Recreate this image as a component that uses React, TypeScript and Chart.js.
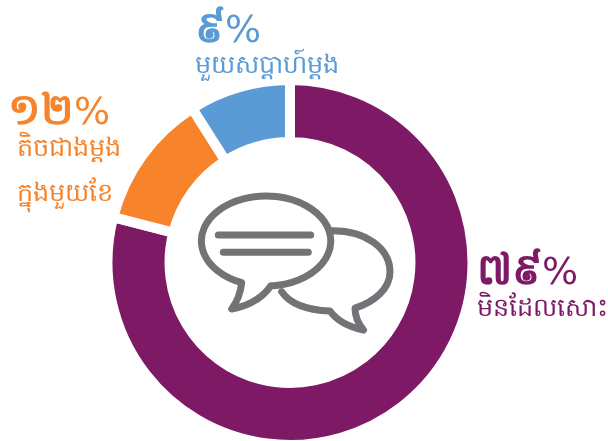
import React, { useEffect, useRef } from "react";
import { Chart, registerables } from "chart.js";
Chart.register(...registerables);

const categories = ["មិនដែលសោះ", "តិចជាងម្តង ក្នុងមួយខែ", "មួយសប្តាហ៍ម្តង"];
const values = [79, 12, 9];
const digitLabels = ["៧៩", "១២", "៩"];
const colors = ["#7E1A65", "#F7842A", "#5B9BD5"];
const labelLeft = [477, 8, 195];
const labelTop = [239, 79, -3];
const nameLeft = [477, 17, 195];
const nameTop = [287, 127, 44];
const font = "'DejaVu Sans', sans-serif";
const grey = "#727376";

export default function App() {
  const ref = useRef<HTMLCanvasElement>(null);
  useEffect(() => {
    const chart = new Chart(ref.current!, {
      type: "doughnut",
      data: { labels: categories, datasets: [{ data: values, backgroundColor: colors, borderColor: "#fff", borderWidth: 10, hoverOffset: 0 }] },
      options: {
        animation: false, responsive: false, radius: 182.5, cutout: "66%",
        layout: { padding: { left: 0, right: 28, top: 84, bottom: 0 } },
        plugins: { legend: { display: false }, tooltip: { enabled: false } },
      },
    });
    return () => chart.destroy();
  }, []);
  return (
    <div style={{ position: "absolute", left: 0, top: 0, width: 608, height: 441, overflow: "hidden" }}>
      <canvas ref={ref} width={608} height={441} style={{ display: "block" }} />
      <svg width={608} height={441} style={{ position: "absolute", left: 0, top: 0 }} fill="none" stroke={grey} strokeWidth={7} strokeLinecap="round" strokeLinejoin="round">
        <path d="M270.7 285.9 A64.7 45 0 1 0 241.7 282.7 Q240 298 231.7 309 Q258 304 270.7 285.9" />
        <path d="M331 230.7 C365 230 390 248 390 272 C390 288 375 302 355 308 Q355 320 363.5 330 Q340 325 330 311 C308 310 290 304 281.7 291.7" />
        <path d="M218.3 235 H310.7" />
        <path d="M223.3 252.3 H308.3" />
      </svg>
      {values.map((_, i) => (
        <div key={i} style={{ color: colors[i] }}>
          <div style={{ position: "absolute", left: labelLeft[i], top: labelTop[i], fontFamily: font, fontSize: 38, lineHeight: "60px", whiteSpace: "nowrap" }}>
            <span style={{ fontWeight: 700, fontSize: 43 }}>{digitLabels[i]}</span>%
          </div>
          {categories[i].split(" ").map((line, j) => (
            <div key={j} style={{ position: "absolute", left: nameLeft[i], top: nameTop[i] + j * 45, fontFamily: font, fontSize: 25.5, lineHeight: "40px", whiteSpace: "nowrap" }}>{line}</div>
          ))}
        </div>
      ))}
    </div>
  );
}
